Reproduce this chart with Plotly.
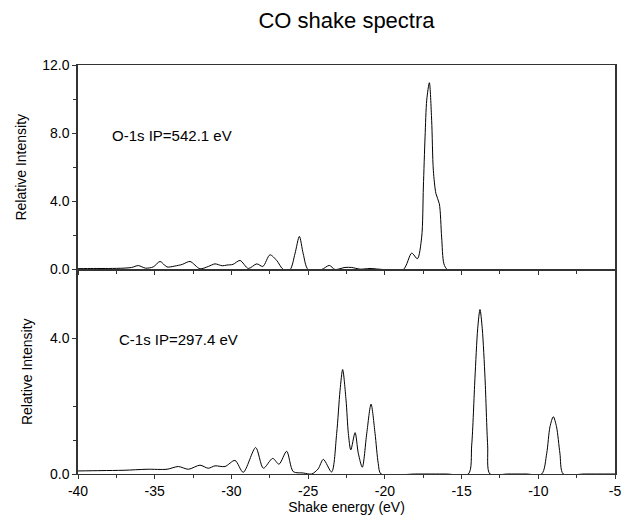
import plotly.graph_objects as go
from plotly.subplots import make_subplots

# O-1s shake spectrum (top panel)
o1s_energy = [-40.0, -39.0, -38.0, -37.0, -36.5, -36.07, -35.6, -35.1, -34.65, -34.2,
              -33.7, -33.2, -32.7, -32.05, -31.5, -31.07, -30.6, -30.3, -29.9, -29.44,
              -28.9, -28.35, -27.95, -27.49, -27.05, -26.62, -26.18, -25.86, -25.57, -25.32,
              -25.0, -24.12, -23.62, -23.25, -22.6, -22.16, -21.62, -20.97, -20.1, -18.8,
              -18.25, -17.88, -17.6, -17.49, -17.38, -17.27, -17.10, -16.95, -16.84, -16.67,
              -16.45, -16.30, -16.15, -15.93, -15.0, -13.0, -11.0, -9.0, -7.0, -5.0]
o1s_intensity = [0.05, 0.06, 0.06, 0.08, 0.12, 0.23, 0.08, 0.15, 0.47, 0.15,
                 0.20, 0.30, 0.47, 0.04, 0.18, 0.33, 0.22, 0.26, 0.30, 0.53,
                 0.06, 0.33, 0.18, 0.86, 0.53, 0.0, 0.0, 0.92, 1.94, 0.92,
                 0.0, 0.0, 0.24, 0.0, 0.12, 0.12, 0.02, 0.06, 0.0, 0.0,
                 0.96, 0.63, 1.90, 4.84, 7.78, 9.94, 10.96, 8.76, 5.82, 4.45,
                 3.86, 1.90, 0.33, 0.0, 0.0, 0.0, 0.0, 0.0, 0.0, 0.0]

# C-1s shake spectrum (bottom panel)
c1s_energy = [-40.0, -38.5, -37.0, -35.5, -34.2, -33.46, -32.8, -32.05, -31.51, -31.07,
              -30.42, -29.77, -29.23, -28.42, -27.92, -27.31, -26.9, -26.40, -25.97, -25.32,
              -24.77, -24.35, -24.01, -23.47, -23.14, -22.92, -22.75, -22.53, -22.38, -22.22,
              -21.94, -21.73, -21.47, -21.18, -20.90, -20.64, -20.43, -20.25, -18.0, -16.0,
              -14.56, -14.34, -14.13, -13.95, -13.80, -13.65, -13.47, -13.30, -13.15, -12.0,
              -10.8, -9.78, -9.45, -9.24, -9.02, -8.81, -8.59, -8.37, -7.0, -5.0]
c1s_intensity = [0.09, 0.10, 0.11, 0.14, 0.14, 0.22, 0.14, 0.26, 0.17, 0.24,
                 0.22, 0.40, 0.05, 0.78, 0.17, 0.46, 0.29, 0.67, 0.07, 0.03,
                 0.0, 0.15, 0.43, 0.06, 1.20, 2.47, 3.08, 2.18, 1.20, 0.71,
                 1.22, 0.61, 0.20, 1.20, 2.06, 1.20, 0.31, 0.0, 0.0, 0.0,
                 0.0, 0.85, 2.81, 4.28, 4.85, 4.28, 2.81, 0.85, 0.0, 0.0,
                 0.0, 0.0, 0.61, 1.39, 1.69, 1.39, 0.61, 0.0, 0.0, 0.0]

x_tickvals = [-40, -35, -30, -25, -20, -15, -10, -5]
x_ticktext = ["-40", "-35", "-30", "-25", "-20", "-15", "-10", "-5"]
x_minor = [-37.5, -32.5, -27.5, -22.5, -17.5, -12.5, -7.5]
top_tickvals = [0, 4, 8, 12]
top_ticktext = ["0.0", "4.0", "8.0", "12.0"]
top_minor = [2, 6, 10]
bot_tickvals = [0, 4]
bot_ticktext = ["0.0", "4.0"]
bot_minor = [1, 2]

FONT = "Liberation Sans, Arial, Helvetica, sans-serif"
AX = "#333333"

fig = make_subplots(rows=2, cols=1, shared_xaxes=True, vertical_spacing=0)

fig.add_trace(go.Scatter(x=o1s_energy, y=o1s_intensity, mode="lines",
                         line=dict(color="black", width=1, shape="spline", smoothing=0.8),
                         showlegend=False, hoverinfo="skip"), row=1, col=1)
fig.add_trace(go.Scatter(x=c1s_energy, y=c1s_intensity, mode="lines",
                         line=dict(color="black", width=1, shape="spline", smoothing=0.8),
                         showlegend=False, hoverinfo="skip"), row=2, col=1)

xcommon = dict(range=[-40, -5], showgrid=False, zeroline=False, showline=True,
               linecolor=AX, linewidth=1, mirror=True, ticks="outside", ticklen=4,
               tickcolor=AX, tickvals=x_tickvals, ticktext=x_ticktext,
               minor=dict(tickvals=x_minor, ticks="outside", ticklen=3, tickcolor=AX),
               tickfont=dict(family=FONT, size=14, color="black"))
fig.update_xaxes(**xcommon)
fig.update_xaxes(showticklabels=False, row=1, col=1)
fig.update_xaxes(title=dict(text="Shake energy (eV)", font=dict(family=FONT, size=14, color="black"),
                            standoff=2), row=2, col=1)

ycommon = dict(showgrid=False, zeroline=False, showline=True, linecolor=AX, linewidth=1.5,
               mirror=True, ticks="outside", ticklen=4, tickcolor=AX,
               tickfont=dict(family=FONT, size=14, color="black"))
fig.update_yaxes(**ycommon)
fig.update_yaxes(range=[0, 12], tickvals=top_tickvals, ticktext=top_ticktext,
                 minor=dict(tickvals=top_minor, ticks="outside", ticklen=3, tickcolor=AX),
                 title=dict(text="Relative Intensity", font=dict(family=FONT, size=14, color="black"),
                            standoff=12), row=1, col=1)
fig.update_yaxes(range=[0, 6.03], tickvals=bot_tickvals, ticktext=bot_ticktext,
                 minor=dict(tickvals=bot_minor, ticks="outside", ticklen=3, tickcolor=AX),
                 title=dict(text="Relative Intensity", font=dict(family=FONT, size=14, color="black"),
                            standoff=14), row=2, col=1)

fig.add_annotation(x=-37.91, y=7.88, xref="x", yref="y", text="O-1s IP=542.1 eV",
                   showarrow=False, xanchor="left", yanchor="middle",
                   font=dict(family=FONT, size=15, color="black"))
fig.add_annotation(x=-37.48, y=3.97, xref="x2", yref="y2", text="C-1s IP=297.4 eV",
                   showarrow=False, xanchor="left", yanchor="middle",
                   font=dict(family=FONT, size=15, color="black"))

# The page body adds an 8px offset, so the figure is sized to fill the rest of the window.
fig.update_layout(
    width=633, height=511,
    margin=dict(l=70, r=26, t=57, b=45, autoexpand=False),
    paper_bgcolor="white", plot_bgcolor="white",
    title=dict(text="CO shake spectra", x=0.5, xref="paper", xanchor="center",
               y=1 - 12 / 511, yref="container", yanchor="middle",
               font=dict(family=FONT, size=22, color="black")),
)

fig.write_html("out.html")
